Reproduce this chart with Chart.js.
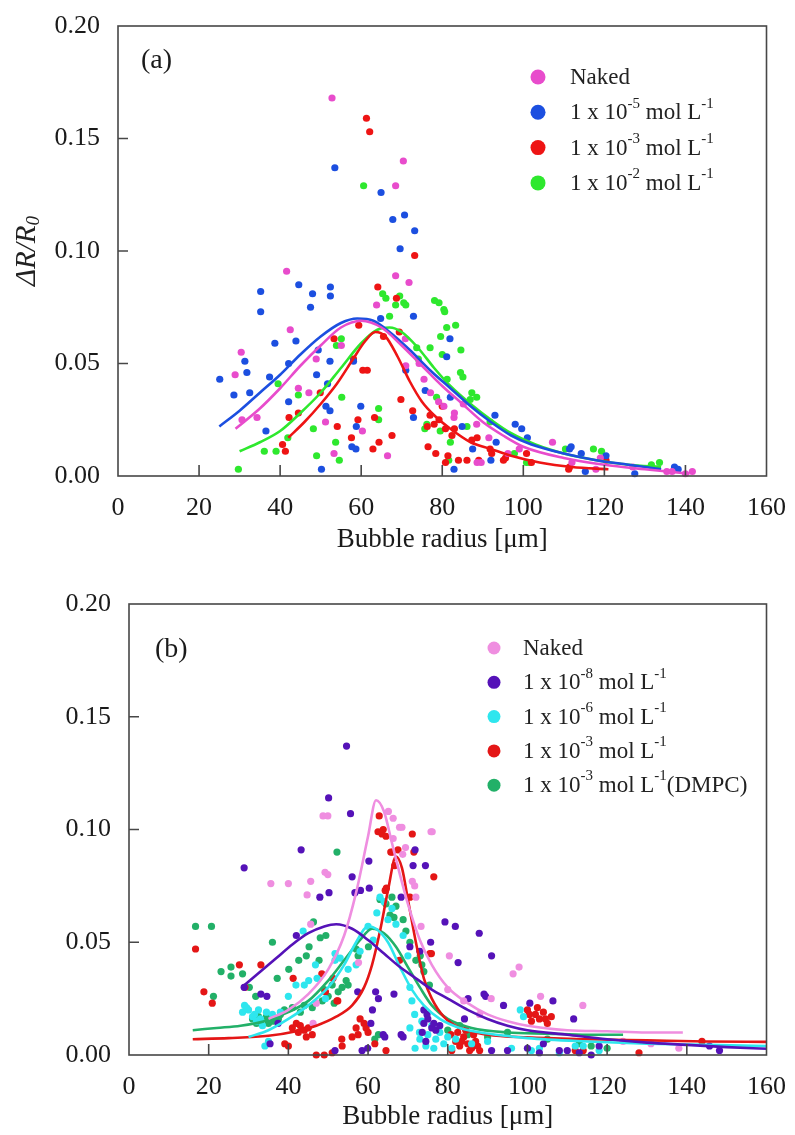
<!DOCTYPE html>
<html>
<head>
<meta charset="utf-8">
<script src="https://cdn.jsdelivr.net/npm/chart.js@4.4.0/dist/chart.umd.min.js"></script>
<style>
  body { margin: 0; background: #fff; }
  .panel { position: absolute; left: 0; width: 795px; height: 560px; }
</style>
</head>
<body>
<div class="panel" style="top:0"><canvas id="chartA" width="795" height="560"></canvas></div>
<div class="panel" style="top:575px"><canvas id="chartB" width="795" height="560"></canvas></div>
<script>
// ---- axis ticks ----
const radiusTicks = [0, 20, 40, 60, 80, 100, 120, 140, 160];
const ratioTicks = [0.00, 0.05, 0.10, 0.15, 0.20];

// ---- panel (a): measured points [radius um, dR/R0] ----
const nakedA = [[52.8,0.168],[70.4,0.140],[68.5,0.129],[41.6,0.091],[68.5,0.089],[71.8,0.086],[63.8,0.076],[42.5,0.065],
  [30.4,0.055],[28.9,0.045],[44.5,0.039],[47.1,0.037],[48.9,0.052],[55.1,0.058],[34.3,0.026],[51.2,0.024],[60.3,0.020],
  [66.5,0.009],[53.3,0.010],[71.0,0.049],[70.9,0.061],[74.3,0.050],[75.5,0.043],[77.1,0.037],[79.1,0.033],[80.4,0.031],
  [82.9,0.026],[83.0,0.028],[85.2,0.032],[88.5,0.023],[88.6,0.006],[89.6,0.006],[91.5,0.017],[96.2,0.010],[99.0,0.012],
  [107.2,0.015],[112.0,0.006],[117.9,0.003],[119.0,0.008],[127.0,0.004],[135.4,0.002],[136.7,0.002],[140.0,0.001],
  [141.7,0.002],[30.6,0.025]];
const conc5A = [[53.5,0.137],[64.9,0.126],[67.8,0.114],[70.7,0.116],[73.2,0.109],[69.6,0.101],[35.2,0.082],[35.2,0.073],
  [44.6,0.085],[48.0,0.081],[47.5,0.075],[52.4,0.084],[52.4,0.080],[72.9,0.071],[64.8,0.070],[38.7,0.059],[43.9,0.060],
  [31.3,0.051],[25.1,0.043],[31.8,0.046],[28.6,0.036],[32.5,0.037],[37.4,0.044],[42.1,0.050],[49.0,0.045],[52.3,0.051],
  [58.1,0.051],[49.4,0.056],[42.1,0.033],[51.7,0.041],[52.3,0.029],[51.3,0.031],[36.5,0.020],[59.9,0.031],[58.8,0.022],
  [57.7,0.013],[58.7,0.012],[50.2,0.003],[72.9,0.026],[75.8,0.038],[71.0,0.047],[81.1,0.053],[81.9,0.061],[82.0,0.035],
  [93.0,0.027],[98.0,0.023],[99.6,0.021],[101.0,0.017],[84.9,0.022],[87.5,0.012],[93.3,0.015],[92.0,0.007],[82.9,0.003],
  [111.4,0.012],[111.8,0.013],[114.3,0.010],[115.3,0.002],[120.4,0.009],[127.5,0.001],[137.3,0.004],[138.2,0.003]];
const conc3A = [[61.3,0.159],[62.1,0.153],[73.2,0.098],[64.1,0.084],[68.7,0.079],[59.4,0.067],[53.3,0.061],[60.4,0.047],
  [61.5,0.047],[58.1,0.052],[49.9,0.037],[44.5,0.028],[42.2,0.026],[54.1,0.022],[57.6,0.017],[63.3,0.026],[62.9,0.012],
  [64.4,0.015],[67.6,0.018],[40.6,0.014],[41.3,0.011],[59.2,0.025],[69.8,0.034],[72.7,0.029],[76.5,0.013],[78.4,0.010],
  [76.3,0.022],[69.4,0.064],[65.5,0.062],[79.2,0.025],[80.8,0.021],[82.4,0.018],[88.6,0.017],[92.2,0.010],[95.1,0.007],
  [86.1,0.007],[80.8,0.006],[80.0,0.031],[77.0,0.027],[78.0,0.023],[83.0,0.021],[87.3,0.016],[91.8,0.012],[81.4,0.009],
  [84.0,0.007],[89.0,0.007],[95.6,0.008],[102.0,0.006],[100.8,0.010],[111.2,0.003],[111.4,0.004],[120.4,0.007]];
const conc2A = [[60.6,0.129],[65.3,0.081],[66.1,0.079],[68.5,0.076],[69.5,0.080],[70.5,0.077],[71.0,0.076],[78.1,0.078],
  [80.4,0.074],[67.0,0.071],[55.1,0.061],[53.9,0.058],[73.7,0.057],[39.5,0.041],[44.5,0.036],[64.3,0.030],[64.3,0.025],
  [48.2,0.021],[41.9,0.017],[36.1,0.011],[39.0,0.011],[53.7,0.015],[49.0,0.009],[54.6,0.007],[29.7,0.003],[75.7,0.021],
  [76.2,0.023],[79.2,0.077],[80.6,0.073],[81.1,0.066],[83.3,0.067],[79.6,0.062],[84.6,0.056],[84.5,0.046],[85.1,0.044],
  [87.3,0.037],[86.9,0.034],[81.2,0.043],[86.1,0.022],[55.2,0.035],[74.1,0.052],[77.0,0.057],[80.0,0.054],[78.6,0.035],
  [79.5,0.020],[88.5,0.035],[82.0,0.015],[81.6,0.007],[91.8,0.024],[97.8,0.010],[100.8,0.006],[101.6,0.006],[110.4,0.012],
  [117.3,0.012],[119.3,0.011],[131.6,0.005],[133.6,0.006]];

// ---- panel (a): fitted curves ----
const fitNakedA = [[29,0.021],[35,0.030],[40,0.039],[45,0.049],[50,0.058],[55,0.066],[60,0.069],[65,0.066],[70,0.058],
  [75,0.049],[80,0.040],[85,0.032],[90,0.024],[95,0.018],[100,0.013],[110,0.008],[120,0.005],[130,0.003],[141,0.001]];
const fitConc5A = [[25,0.022],[30,0.029],[35,0.037],[40,0.045],[45,0.054],[50,0.062],[55,0.068],[59,0.070],[63,0.069],
  [67,0.064],[72,0.056],[77,0.047],[82,0.039],[87,0.031],[92,0.024],[97,0.018],[102,0.014],[110,0.010],[118,0.007],
  [126,0.005],[134,0.003]];
const fitConc3A = [[42,0.017],[46,0.024],[50,0.032],[54,0.041],[58,0.052],[61,0.060],[63.5,0.064],[66,0.062],[69,0.053],
  [72,0.042],[75,0.033],[78,0.027],[82,0.021],[87,0.015],[92,0.012],[97,0.009],[104,0.006],[112,0.004],[121,0.003]];
const fitConc2A = [[30,0.011],[35,0.015],[40,0.020],[45,0.028],[50,0.037],[55,0.048],[60,0.059],[64,0.065],[67,0.066],
  [70,0.064],[74,0.057],[78,0.048],[82,0.040],[87,0.032],[92,0.025],[97,0.019],[103,0.014],[110,0.010],[118,0.007],
  [126,0.005],[134,0.004]];

// ---- panel (b): measured points ----
const nakedB = [[48.7,0.106],[49.9,0.106],[65.1,0.108],[66.3,0.105],[67.9,0.101],[35.6,0.076],[40.0,0.076],[45.6,0.077],
  [44.7,0.071],[49.9,0.080],[45.6,0.058],[46.2,0.014],[57.6,0.041],[68.5,0.101],[76.1,0.099],[69.4,0.092],[80.4,0.044],
  [97.9,0.039],[96.4,0.036],[90.9,0.025],[103.3,0.026],[113.9,0.022],[66.3,0.096],[68.7,0.089],[71.1,0.077],[72.0,0.070],
  [71.7,0.075],[75.8,0.099],[49.2,0.081],[73.3,0.057],[47.0,0.023],[80.0,0.029],[84.0,0.024],[88.0,0.018],[124.0,0.006],
  [131.0,0.005],[138.0,0.003]];
const conc8B = [[54.6,0.137],[50.1,0.114],[55.6,0.107],[43.2,0.091],[28.9,0.083],[60.2,0.086],[50.2,0.072],[47.9,0.070],
  [58.1,0.073],[60.3,0.074],[42.0,0.053],[56.0,0.079],[34.6,0.026],[33.1,0.027],[28.9,0.030],[57.4,0.028],[61.9,0.028],
  [62.6,0.025],[66.5,0.027],[61.1,0.020],[60.7,0.014],[63.8,0.009],[68.3,0.009],[35.4,0.005],[37.4,0.014],[59.9,0.003],
  [68.3,0.070],[71.8,0.091],[71.3,0.084],[74.4,0.084],[79.3,0.059],[81.9,0.057],[87.9,0.054],[91.0,0.044],[82.6,0.041],
  [70.5,0.048],[73.0,0.046],[75.7,0.050],[85.1,0.025],[89.5,0.026],[94.0,0.022],[100.6,0.023],[106.4,0.024],[111.6,0.016],
  [74.0,0.014],[76.0,0.012],[77.0,0.011],[91.0,0.002],[95.0,0.002],[145.7,0.004],[148.2,0.002],[73.6,0.010],[56.7,0.072],
  [84.2,0.016],[89.1,0.027],[74.5,0.006],[58.5,0.002],[51.7,0.002],[64.2,0.008],[68.8,0.008],[74.0,0.020],[104.0,0.005],
  [113.0,0.001],[118.0,0.004],[110.0,0.002],[75.0,0.016],[76.5,0.014],[78.0,0.013],[100.0,0.003],[103.0,0.001],
  [108.0,0.002],[116.0,0.000],[74.8,0.018]];
const conc6B = [[63.0,0.070],[62.2,0.063],[61.3,0.051],[68.8,0.053],[51.7,0.045],[51.7,0.042],[49.3,0.025],[71.7,0.018],
  [72.9,0.010],[75.0,0.009],[77.0,0.007],[71.8,0.003],[81.0,0.003],[82.0,0.007],[43.7,0.055],[41.9,0.031],[44.0,0.031],
  [45.1,0.033],[47.2,0.034],[46.8,0.040],[28.5,0.019],[30.0,0.020],[31.0,0.017],[32.5,0.020],[33.0,0.016],[34.1,0.004],
  [36.0,0.018],[38.0,0.019],[57.0,0.040],[58.0,0.046],[55.0,0.038],[60.0,0.057],[64.0,0.068],[65.0,0.060],[70.0,0.044],
  [70.5,0.030],[71.0,0.024],[73.5,0.015],[76.0,0.013],[78.0,0.010],[80.0,0.008],[86.0,0.005],[90.0,0.006],[98.2,0.020],
  [99.0,0.017],[103.0,0.003],[108.0,0.001],[112.0,0.004],[114.0,0.004],[118.0,0.002],[33.5,0.013],[35.0,0.006],
  [29.0,0.022],[40.0,0.026],[53.0,0.043],[31.5,0.018],[32.0,0.015],[29.5,0.021],[34.5,0.019],[70.5,0.012],[73.0,0.007],
  [74.5,0.004],[76.5,0.003],[79.0,0.005],[96.0,0.003],[101.0,0.002],[66.0,0.065],[67.0,0.058]];
const conc3B = [[16.7,0.047],[18.8,0.028],[20.9,0.023],[27.7,0.040],[33.1,0.040],[29.1,0.030],[41.2,0.034],[51.2,0.034],
  [52.4,0.024],[40.0,0.004],[41.0,0.012],[42.0,0.014],[43.0,0.013],[44.0,0.011],[45.0,0.012],[46.0,0.009],[39.1,0.005],
  [56.0,0.008],[57.0,0.012],[58.0,0.016],[59.0,0.014],[60.0,0.010],[53.5,0.004],[62.8,0.106],[62.5,0.099],[63.5,0.098],
  [64.5,0.097],[66.1,0.090],[64.3,0.073],[71.1,0.098],[71.5,0.090],[76.5,0.079],[75.9,0.045],[65.7,0.090],[66.7,0.084],
  [64.6,0.074],[75.5,0.045],[67.9,0.042],[48.4,0.036],[49.3,0.028],[52.2,0.024],[53.4,0.007],[47.0,0.000],[49.0,0.000],
  [51.0,0.001],[61.7,0.005],[64.5,0.002],[80.8,0.009],[82.0,0.006],[83.0,0.004],[84.0,0.008],[85.0,0.005],[86.0,0.003],
  [87.0,0.006],[88.0,0.002],[81.0,0.002],[100.0,0.020],[102.0,0.018],[103.0,0.016],[104.0,0.019],[105.0,0.014],
  [106.0,0.017],[101.0,0.015],[112.0,0.002],[114.0,0.002],[128.0,0.001],[143.8,0.006],[82.5,0.010],[84.5,0.011],
  [86.5,0.009],[83.5,0.006],[85.5,0.002],[87.5,0.004],[70.5,0.070],[67.5,0.091],[63.8,0.100],[100.5,0.018],
  [102.5,0.021],[104.5,0.016],[42.5,0.010],[44.5,0.008],[57.5,0.009],[59.5,0.012]];
const dmpcB = [[16.7,0.057],[20.7,0.057],[52.2,0.090],[36.0,0.050],[46.3,0.059],[23.1,0.037],[25.6,0.039],[25.6,0.035],
  [28.5,0.036],[21.2,0.026],[30.2,0.030],[31.8,0.026],[37.2,0.034],[40.1,0.038],[42.6,0.042],[44.5,0.044],[45.2,0.048],
  [48.0,0.052],[49.4,0.053],[47.7,0.042],[31.0,0.016],[32.0,0.014],[33.0,0.015],[34.5,0.017],[36.0,0.015],[37.5,0.016],
  [39.0,0.020],[41.0,0.021],[43.0,0.019],[44.0,0.022],[48.5,0.024],[50.0,0.026],[51.5,0.023],[52.5,0.028],[53.5,0.030],
  [54.5,0.033],[55.0,0.031],[63.0,0.069],[64.5,0.067],[66.0,0.070],[67.0,0.066],[65.5,0.062],[66.5,0.061],[68.8,0.060],
  [60.1,0.048],[57.0,0.047],[57.5,0.044],[72.0,0.042],[73.1,0.044],[73.5,0.040],[74.0,0.037],[75.4,0.031],[61.7,0.007],
  [62.6,0.009],[80.0,0.011],[83.0,0.013],[85.0,0.009],[90.0,0.008],[95.0,0.010],[105.0,0.007],[113.0,0.005],[116.0,0.004],
  [120.0,0.003],[32.5,0.017],[35.0,0.014],[38.0,0.018],[46.0,0.021],[49.0,0.029],[51.0,0.031],[70.5,0.050],[69.5,0.055]];

// ---- panel (b): fitted curves ----
const fitNakedB = [[35,0.016],[40,0.020],[45,0.027],[50,0.038],[54,0.053],[57,0.072],[60,0.097],[62,0.113],[64,0.108],
  [66,0.094],[68,0.080],[70,0.067],[73,0.051],[76,0.040],[80,0.030],[85,0.023],[90,0.018],[95,0.015],[100,0.013],
  [110,0.011],[120,0.0105],[130,0.010],[139,0.010]];
const fitConc8B = [[29,0.031],[33,0.037],[37,0.043],[41,0.049],[45,0.054],[49,0.057],[52,0.058],[56,0.056],[60,0.051],
  [64,0.045],[68,0.039],[72,0.034],[76,0.029],[80,0.025],[85,0.020],[90,0.016],[95,0.013],[100,0.011],[110,0.009],
  [120,0.007],[130,0.0055],[140,0.0045],[150,0.0035],[160,0.0028]];
const fitConc6B = [[30,0.008],[35,0.011],[40,0.016],[45,0.022],[50,0.030],[54,0.040],[57,0.050],[60,0.057],[62,0.056],
  [65,0.050],[68,0.039],[71,0.029],[74,0.022],[78,0.016],[83,0.012],[90,0.0095],[100,0.0075],[115,0.006],[130,0.005],
  [145,0.0045],[160,0.004]];
const fitConc3B = [[16,0.007],[25,0.0075],[35,0.0085],[42,0.0105],[47,0.013],[52,0.017],[56,0.022],[59,0.030],[61,0.040],
  [63,0.055],[65,0.073],[67,0.088],[68.5,0.083],[70,0.069],[72,0.050],[74,0.034],[76,0.025],[79,0.017],[83,0.012],
  [90,0.009],[100,0.0078],[115,0.007],[130,0.0065],[145,0.006],[160,0.0058]];
const fitDmpcB = [[16,0.011],[22,0.012],[28,0.013],[34,0.015],[40,0.019],[45,0.024],[50,0.033],[54,0.042],[58,0.051],
  [61,0.056],[64,0.054],[67,0.048],[70,0.039],[73,0.030],[76,0.022],[80,0.016],[86,0.012],[95,0.010],[105,0.0095],
  [115,0.009],[124,0.009]];

// ---- legend labels ({} = superscript) ----
const labelsA = ['Naked', '1 x 10{-5} mol L{-1}', '1 x 10{-3} mol L{-1}', '1 x 10{-2} mol L{-1}'];
const labelsB = ['Naked', '1 x 10{-8} mol L{-1}', '1 x 10{-6} mol L{-1}', '1 x 10{-3} mol L{-1}', '1 x 10{-3} mol L{-1}(DMPC)'];

const colorsA = ['#e84ccc', '#1c4fe0', '#ee1414', '#2ee82e'];
const colorsB = ['#ef8ee0', '#5512b8', '#2ee6ee', '#e41616', '#22b068'];

const SERIF = '"Liberation Serif", "DejaVu Serif", serif';

function pts(arr) {
  return arr.map(([x, y]) => ({ x, y }));
}

// text with {..} parts raised as superscripts
function drawRich(ctx, str, x, y, size) {
  const parts = str.split(/\{([^}]*)\}/);
  parts.forEach((p, i) => {
    const sup = i % 2 === 1;
    ctx.font = (sup ? Math.round(size * 0.64) : size) + 'px ' + SERIF;
    ctx.fillText(p, x, sup ? y - size * 0.42 : y);
    x += ctx.measureText(p).width;
  });
}

// box frame and inward tick marks
const framePlugin = {
  id: 'frame',
  afterDatasetsDraw(chart) {
    const { ctx, chartArea: a, scales: { x, y } } = chart;
    ctx.save();
    ctx.strokeStyle = '#474747';
    ctx.lineWidth = 1.6;
    ctx.strokeRect(a.left, a.top, a.right - a.left, a.bottom - a.top);
    ctx.beginPath();
    x.ticks.forEach(t => {
      if (t.value <= x.min || t.value >= x.max) return;
      const px = x.getPixelForValue(t.value);
      ctx.moveTo(px, a.bottom);
      ctx.lineTo(px, a.bottom - 11);
    });
    y.ticks.forEach(t => {
      if (t.value <= y.min || t.value >= y.max) return;
      const py = y.getPixelForValue(t.value);
      ctx.moveTo(a.left, py);
      ctx.lineTo(a.left + 10, py);
    });
    ctx.stroke();
    ctx.restore();
  }
};

// panel letter, legend and rotated y title
const decoPlugin = {
  id: 'deco',
  afterDraw(chart, args, o) {
    const ctx = chart.ctx;
    ctx.save();
    ctx.fillStyle = '#1a1a1a';
    ctx.textBaseline = 'middle';
    ctx.textAlign = 'left';
    ctx.font = '28px ' + SERIF;
    ctx.fillText(o.letter, o.letterX, o.letterY);

    o.labels.forEach((lab, i) => {
      const ry = o.legTop + i * o.legGap;
      ctx.fillStyle = o.colors[i];
      ctx.beginPath();
      ctx.arc(o.markX, ry, o.markR, 0, Math.PI * 2);
      ctx.fill();
      ctx.fillStyle = '#222';
      drawRich(ctx, lab, o.textX, ry + 1, 23);
    });

    if (o.yTitle) {
      ctx.translate(o.yTitle.x, o.yTitle.y);
      ctx.rotate(-Math.PI / 2);
      const big = 'italic 29px ' + SERIF, small = 'italic 19px ' + SERIF;
      ctx.font = big;
      const w1 = ctx.measureText('ΔR/R').width;
      ctx.font = small;
      const w2 = ctx.measureText('0').width;
      let sx = -(w1 + w2) / 2;
      ctx.font = big;
      ctx.fillText('ΔR/R', sx, 0);
      ctx.font = small;
      ctx.fillText('0', sx + w1, 7);
    }
    ctx.restore();
  }
};

function buildDatasets(points, fits, colors) {
  const sets = [];
  points.forEach((p, i) => {
    sets.push({
      data: pts(p), showLine: false, order: 2, clip: false,
      pointRadius: 3.6, pointHoverRadius: 3.6, pointBorderWidth: 0,
      backgroundColor: colors[i], borderColor: colors[i]
    });
  });
  fits.forEach((f, i) => {
    sets.push({
      data: pts(f), showLine: true, order: 1, pointRadius: 0,
      borderColor: colors[i], borderWidth: 2.6,
      cubicInterpolationMode: 'monotone', fill: false
    });
  });
  return sets;
}

function makeChart(id, datasets, pad, axisW, axisH, titleBottom, deco) {
  return new Chart(document.getElementById(id), {
    type: 'scatter',
    data: { datasets },
    options: {
      responsive: false,
      animation: false,
      layout: { padding: { left: 0, right: 24, top: pad, bottom: 0 } },
      plugins: { legend: { display: false }, tooltip: { enabled: false }, deco },
      scales: {
        x: {
          type: 'linear', min: 0, max: 160,
          afterBuildTicks: s => { s.ticks = radiusTicks.map(v => ({ value: v })); },
          afterFit: s => { s.height = axisH; },
          grid: { display: false }, border: { display: false },
          ticks: { color: '#1a1a1a', padding: 9, font: { family: SERIF, size: 26 }, maxRotation: 0 },
          title: {
            display: true, text: 'Bubble radius [μm]', color: '#1a1a1a',
            font: { family: SERIF, size: 27 }, padding: { top: 0, bottom: titleBottom }
          }
        },
        y: {
          type: 'linear', min: 0, max: 0.2,
          afterBuildTicks: s => { s.ticks = ratioTicks.map(v => ({ value: v })); },
          afterFit: s => { s.width = axisW; },
          grid: { display: false }, border: { display: false },
          ticks: { color: '#1a1a1a', padding: 10, font: { family: SERIF, size: 26 }, callback: v => v.toFixed(2) }
        }
      }
    },
    plugins: [framePlugin, decoPlugin]
  });
}

makeChart('chartA',
  buildDatasets([nakedA, conc5A, conc3A, conc2A], [fitNakedA, fitConc5A, fitConc3A, fitConc2A], colorsA),
  26, 118, 84, 4,
  { letter: '(a)', letterX: 141, letterY: 61, labels: labelsA, colors: colorsA,
    markX: 538, textX: 570, legTop: 77, legGap: 35.3, markR: 7.5, yTitle: { x: 27, y: 251 } });

makeChart('chartB',
  buildDatasets([nakedB, conc8B, conc6B, conc3B, dmpcB], [fitNakedB, fitConc8B, fitConc6B, fitConc3B, fitDmpcB], colorsB),
  29, 129, 80, 2,
  { letter: '(b)', letterX: 155, letterY: 75, labels: labelsB, colors: colorsB,
    markX: 494, textX: 523, legTop: 73, legGap: 34.3, markR: 6.5 });
</script>
</body>
</html>
